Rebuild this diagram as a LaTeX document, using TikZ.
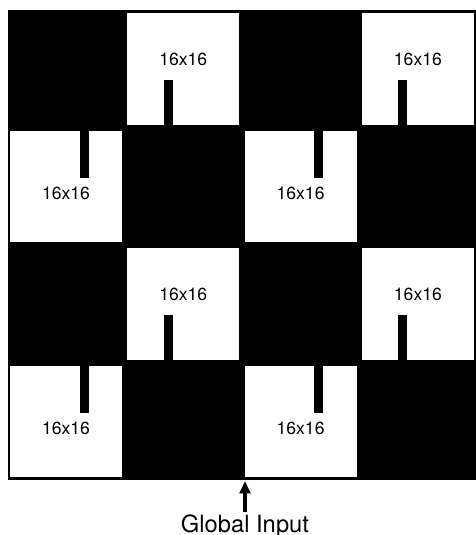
\documentclass[tikz,border=0pt]{standalone}
\usepackage{fontspec}
\setmainfont{TeX Gyre Heros}
\usetikzlibrary{arrows.meta,calc}

\begin{document}
\begin{tikzpicture}[x=0.02cm,y=-0.02cm,
    pe/.style={fill=white,inner sep=0pt,minimum size=2.24cm},
    lbl/.style={font=\fontsize{10}{12}\selectfont,inner sep=0pt}]
  \useasboundingbox (0,0) rectangle (476,535);
  \fill[black] (8,10) rectangle (476,480);
  % port from below
  \foreach \c/\r in {1/0,3/0,1/2,3/2} {
    \node[pe] (pe\r\c) at (66+117.3*\c,69+117.5*\r) {};
    \fill ($(pe\r\c.south)+(-19.5,0)$) rectangle ++(9,-45);
    \node[lbl] (t\r\c) at ($(pe\r\c)+(0,-10)$) {16x16};
  }
  % port from above
  \foreach \c/\r in {0/1,2/1,0/3,2/3} {
    \node[pe] (pe\r\c) at (66+117.3*\c,69+117.5*\r) {};
    \fill ($(pe\r\c.north)+(13.5,0)$) rectangle ++(9,48);
    \node[lbl] (t\r\c) at ($(pe\r\c)+(0,7)$) {16x16};
  }
  \node[font=\fontsize{13.5}{16}\selectfont,anchor=base,inner sep=1pt] (gin) at (245,532) {Global Input};
  \coordinate (gtip) at (245,481);
  \draw[-{Triangle[length=7pt,width=6pt]},line width=1.8pt] (gin.north) -- (gtip);
\end{tikzpicture}
\end{document}
